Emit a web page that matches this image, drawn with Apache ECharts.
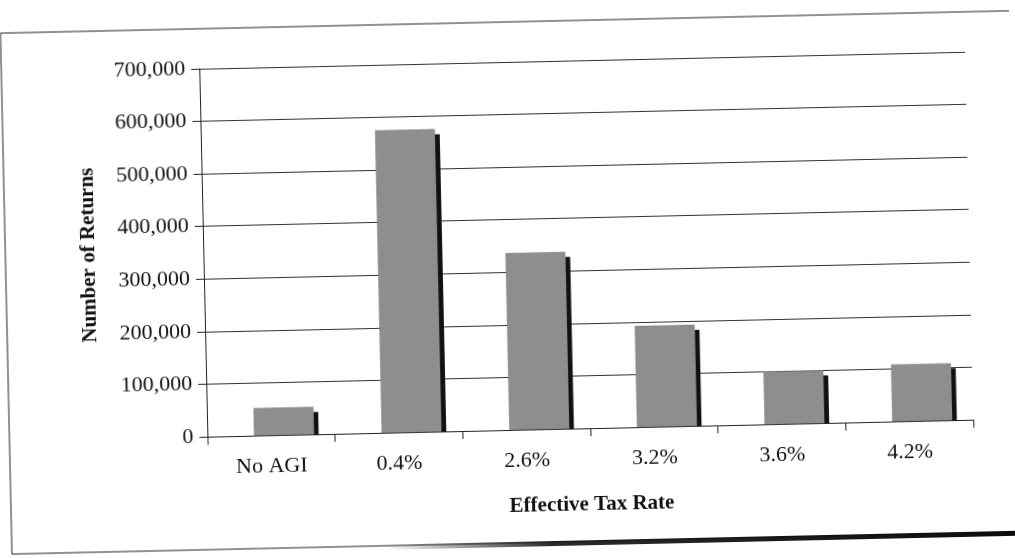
<!DOCTYPE html>
<html>
<head>
<meta charset="utf-8">
<script src="https://cdn.jsdelivr.net/npm/echarts@6/dist/echarts.min.js"></script>
<style>
html,body{margin:0;padding:0;background:#fff;overflow:hidden;}
#chart{width:1015px;height:558px;transform:rotate(-1.27deg);transform-origin:50% 50%;}
</style>
</head>
<body>
<div id="chart"></div>
<script>
const categories = ['No AGI', '0.4%', '2.6%', '3.2%', '3.6%', '4.2%'];
const returnsCount = [52000, 575000, 336000, 192000, 100000, 108000];
const yMin = 0, yMax = 700000, yStep = 100000;
const xTitle = 'Effective Tax Rate';
const yTitle = 'Number of Returns';

const chart = echarts.init(document.getElementById('chart'), null, {renderer: 'canvas'});
const serif = '"Liberation Serif", "DejaVu Serif", serif';

chart.setOption({
  backgroundColor: '#ffffff',
  animation: false,
  graphic: [
    {type: 'rect', shape: {x: 6, y: 22, width: 1030, height: 521},
     style: {fill: 'none', stroke: '#222', lineWidth: 1}, z: 0},
    {type: 'rect', shape: {x: 380, y: 542, width: 660, height: 5},
     style: {fill: new echarts.graphic.LinearGradient(0, 0, 1, 0, [
       {offset: 0, color: 'rgba(20,20,20,0)'},
       {offset: 0.25, color: 'rgba(20,20,20,0.9)'},
       {offset: 1, color: 'rgba(10,10,10,1)'}])}, z: 0}
  ],
  grid: {left: 204, right: 45, top: 62, bottom: 128},
  xAxis: {
    type: 'category',
    data: categories,
    boundaryGap: true,
    name: xTitle,
    nameLocation: 'middle',
    nameGap: 66,
    nameTextStyle: {fontFamily: serif, fontSize: 21, fontWeight: 'bold', color: '#111'},
    axisLine: {show: true, lineStyle: {color: '#222', width: 1}},
    axisTick: {show: true, length: 8, inside: false, lineStyle: {color: '#222'}},
    axisLabel: {fontFamily: serif, fontSize: 22, color: '#111', margin: 20},
    splitLine: {show: false}
  },
  yAxis: {
    type: 'value',
    min: yMin, max: yMax, interval: yStep,
    name: yTitle,
    nameLocation: 'middle',
    nameGap: 104,
    nameRotate: 90,
    nameTextStyle: {fontFamily: serif, fontSize: 21, fontWeight: 'bold', color: '#111'},
    axisLine: {show: true, lineStyle: {color: '#222', width: 1}},
    axisTick: {show: true, length: 8, inside: false, lineStyle: {color: '#222'}},
    axisLabel: {fontFamily: serif, fontSize: 22, color: '#111', margin: 14,
      formatter: v => v.toLocaleString('en-US')},
    splitLine: {show: true, lineStyle: {color: '#333', width: 1}}
  },
  series: [{
    type: 'custom',
    data: returnsCount.map((v, i) => [i, v]),
    encode: {x: 0, y: 1},
    renderItem: function (params, api) {
      const top = api.coord([api.value(0), api.value(1)]);
      const base = api.coord([api.value(0), 0]);
      const band = api.size([1, 0])[0];
      const w = band * 0.465;
      const cx = top[0] + band * 0.1;
      const x0 = cx - w / 2;
      const h = base[1] - top[1];
      return {
        type: 'group',
        children: [
          {type: 'rect', shape: {x: x0 + w, y: top[1] + 5, width: 5, height: Math.max(0, h - 5)},
           style: {fill: '#111'}},
          {type: 'rect', shape: {x: x0, y: top[1], width: w, height: h},
           style: {fill: '#8e8e8e', stroke: '#7a7a7a', lineWidth: 0.5}}
        ]
      };
    }
  }]
});
</script>
</body>
</html>
